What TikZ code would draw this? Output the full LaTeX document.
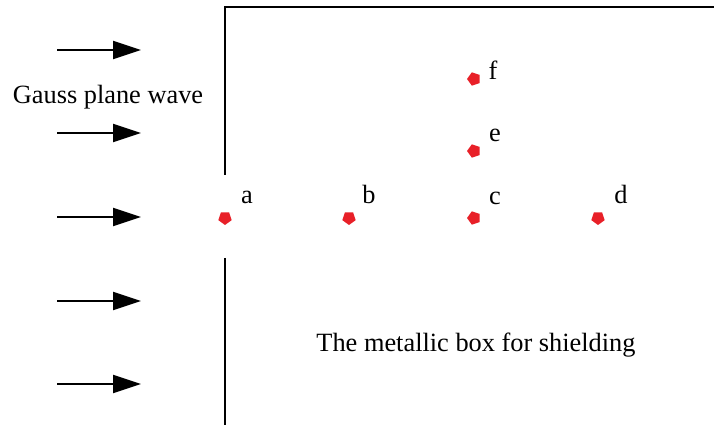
\documentclass[tikz,border=0pt]{standalone}
\usepackage{fontspec}
\setmainfont{Liberation Serif}
\usetikzlibrary{arrows.meta,shapes.geometric}
\definecolor{probered}{RGB}{232,32,40}
\tikzset{
  wave/.style={line width=1.2pt,-{Triangle[length=0.56cm,width=0.36cm]}},
  probe/.style={regular polygon,regular polygon sides=5,fill=probered,inner sep=0pt,minimum size=0.28cm},
  lbl/.style={font=\fontsize{15}{18}\selectfont,anchor=base}
}

\begin{document}
\begin{tikzpicture}[x=0.02cm,y=-0.02cm]
        \useasboundingbox (0,0) rectangle (714,425);
        % shielding box, open at the probe line
        \draw[line width=1.3pt] (714,7)--(225,7)--(225,175); \draw[line width=1.3pt] (225,258)--(225,425);
        \foreach \k/\y in {1/50, 2/133, 3/217, 4/301, 5/384}{
            \coordinate (s\k) at (57,\y); \coordinate (t\k) at (141,\y);
            \draw[wave] (s\k) -- (t\k);
        }
        \node[lbl] (gauss) at (108,104) {Gauss plane wave};
        \node[lbl] (box) at (476,352) {The metallic box for shielding};
        \foreach \p/\x/\y/\r/\lx/\ly in {a/225/218/180/247/204, b/349/218/180/369/204, c/474/218/90/495/205,
                                         d/598/218/180/621/204, e/474/151/90/495/142, f/474/79/90/493/80}{
            \node[probe,rotate=\r] (\p) at (\x,\y) {};
            \node[lbl] (l\p) at (\lx,\ly) {\p};
        }
    \end{tikzpicture}
\end{document}
